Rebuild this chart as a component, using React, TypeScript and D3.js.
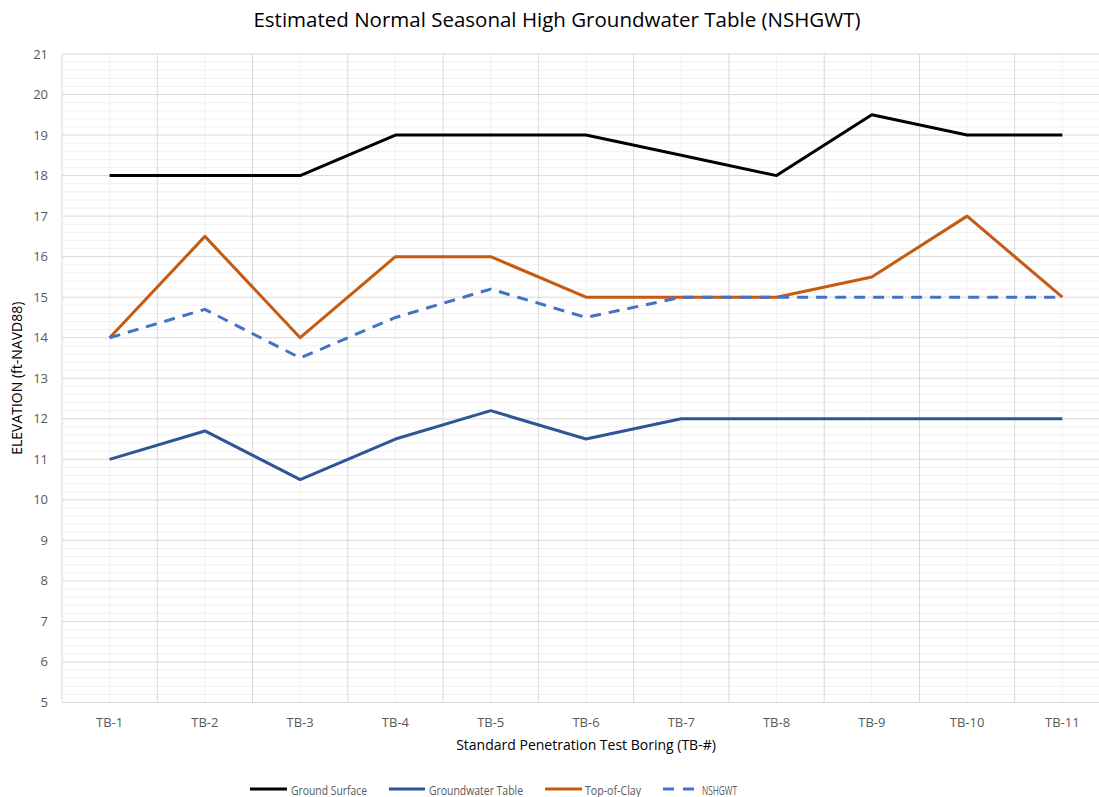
import React from "react";
import * as d3 from "d3";

const categories = ["TB-1", "TB-2", "TB-3", "TB-4", "TB-5", "TB-6", "TB-7", "TB-8", "TB-9", "TB-10", "TB-11"];
const groundSurface = [18, 18, 18, 19, 19, 19, 18.5, 18, 19.5, 19, 19];
const groundwaterTable = [11, 11.7, 10.5, 11.5, 12.2, 11.5, 12, 12, 12, 12, 12];
const topOfClay = [14, 16.5, 14, 16, 16, 15, 15, 15, 15.5, 17, 15];
const nshgwt = [14, 14.7, 13.5, 14.5, 15.2, 14.5, 15, 15, 15, 15, 15];
const yTicks = [5, 6, 7, 8, 9, 10, 11, 12, 13, 14, 15, 16, 17, 18, 19, 20, 21];

const seriesList = [
  { name: "Ground Surface", values: groundSurface, color: "#000000", dash: "" },
  { name: "Groundwater Table", values: groundwaterTable, color: "#2F5597", dash: "" },
  { name: "Top-of-Clay", values: topOfClay, color: "#C55A11", dash: "" },
  { name: "NSHGWT", values: nshgwt, color: "#4472C4", dash: "11,8" },
];

const W = 1099;
const H = 797;
const left = 62;
const right = 1110;
const top = 54;
const bottom = 702.5;
const font = "'Open Sans', sans-serif";

export default function App() {
  const x = d3.scaleBand<string>().domain(categories).range([left, right]);
  const y = d3.scaleLinear().domain([5, 21]).range([bottom, top]);
  const minor = d3.range(5, 21.001, 0.2).filter((v) => Math.abs(v - Math.round(v)) > 0.01);
  const line = d3
    .line<number>()
    .x((_, i) => (x(categories[i]) as number) + x.bandwidth() / 2)
    .y((d) => y(d));
  const legendItems = [
    { lx: 250, lw: 37, tx: 291, tw: 76 },
    { lx: 389, lw: 36, tx: 429, tw: 94 },
    { lx: 545, lw: 37, tx: 585, tw: 56 },
    { lx: 663, lw: 31, tx: 702, tw: 35 },
  ];
  return (
    <div style={{ position: "absolute", left: 0, top: 0 }}>
      <svg width={W} height={H} style={{ display: "block", background: "#fff" }}>
        <rect x={0} y={0} width={W} height={H} fill="#fff" />
        <text x={557} y={27} textAnchor="middle" fontFamily={font} fontSize={20.5} fill="#000">
          Estimated Normal Seasonal High Groundwater Table (NSHGWT)
        </text>
        {minor.map((v, i) => (
          <line key={"mn" + i} x1={left} x2={right} y1={y(v)} y2={y(v)} stroke="#f0f0f0" strokeWidth={1} />
        ))}
        {categories.map((c) => (
          <line
            key={"vc" + c}
            x1={(x(c) as number) + x.bandwidth() / 2}
            x2={(x(c) as number) + x.bandwidth() / 2}
            y1={top}
            y2={bottom}
            stroke="#f0f0f0"
            strokeWidth={1}
          />
        ))}
        {categories.map((c) => (
          <line key={"vb" + c} x1={x(c) as number} x2={x(c) as number} y1={top} y2={bottom} stroke="#d9d9d9" strokeWidth={1} />
        ))}
        {yTicks.map((v) => (
          <line key={"mj" + v} x1={left} x2={right} y1={y(v)} y2={y(v)} stroke="#d9d9d9" strokeWidth={1} />
        ))}
        {yTicks.map((v) => (
          <text key={"yt" + v} x={48} y={y(v) + 4.5} textAnchor="end" fontFamily={font} fontSize={13} fill="#595959">
            {v}
          </text>
        ))}
        {categories.map((c) => (
          <text
            key={"xt" + c}
            x={(x(c) as number) + x.bandwidth() / 2}
            y={727}
            textAnchor="middle"
            fontFamily={font}
            fontSize={13}
            fill="#595959"
          >
            {c}
          </text>
        ))}
        <text x={586} y={750} textAnchor="middle" fontFamily={font} fontSize={14} fill="#000">
          Standard Penetration Test Boring (TB-#)
        </text>
        <text
          transform={`translate(22,${(top + bottom) / 2}) rotate(-90)`}
          textAnchor="middle"
          fontFamily={font}
          fontSize={14}
          fill="#000"
        >
          ELEVATION (ft-NAVD88)
        </text>
        {seriesList.map((s) => (
          <path
            key={s.name}
            d={line(s.values) as string}
            fill="none"
            stroke={s.color}
            strokeWidth={3}
            strokeDasharray={s.dash}
            strokeLinejoin="round"
          />
        ))}
        {seriesList.map((s, i) => (
          <g key={"lg" + s.name}>
            <line
              x1={legendItems[i].lx}
              x2={legendItems[i].lx + legendItems[i].lw}
              y1={789}
              y2={789}
              stroke={s.color}
              strokeWidth={3}
              strokeDasharray={s.dash ? "11,9" : ""}
            />
            <text
              x={legendItems[i].tx}
              y={794.5}
              fontFamily={font}
              fontSize={13.5}
              fill="#595959"
              textLength={legendItems[i].tw}
              lengthAdjust="spacingAndGlyphs"
            >
              {s.name}
            </text>
          </g>
        ))}
      </svg>
    </div>
  );
}
